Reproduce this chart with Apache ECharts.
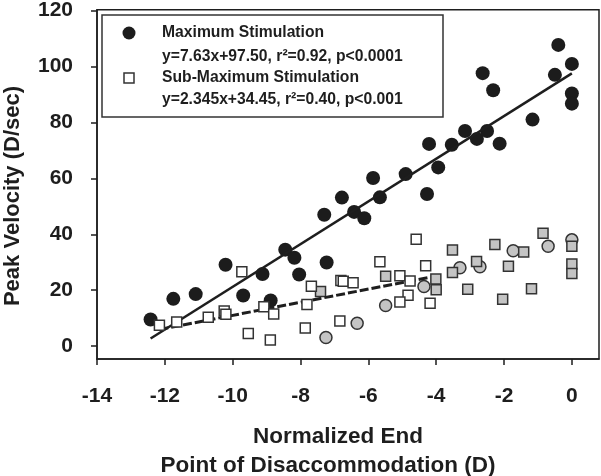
<!DOCTYPE html>
<html>
<head>
<meta charset="utf-8">
<script src="https://cdn.jsdelivr.net/npm/echarts@6/dist/echarts.min.js"></script>
<style>
html,body{margin:0;padding:0;background:#fff;}
#chart{width:601px;height:476px;}
</style>
</head>
<body>
<div id="chart"></div>
<script>
// ---- data ----
var maxX = [-12.42,-11.75,-11.09,-10.21,-9.69,-9.12,-8.88,-8.45,-8.18,-8.04,-7.30,-7.23,-6.78,-6.42,-6.12,-5.86,-5.66,-4.90,-4.27,-4.21,-3.94,-3.54,-3.15,-2.80,-2.63,-2.50,-2.32,-2.13,-1.16,-0.50,-0.40,0,0,0];
var maxY = [9.5,16.9,18.6,29.1,18.1,25.8,16.3,34.5,31.6,25.6,47.0,29.9,53.1,48.0,45.7,60.1,53.2,61.5,54.4,72.3,63.9,72.0,76.9,74.1,97.6,76.9,91.5,72.4,81.0,97.0,107.7,100.9,90.3,86.7];

var subX = [-12.16,-11.65,-10.72,-10.25,-10.20,-9.73,-9.54,-9.08,-8.79,-8.89,-7.86,-7.81,-7.68,-6.84,-6.81,-6.74,-6.45,-5.66,-5.07,-4.77,-4.83,-5.07,-4.59,-4.31,-4.18];
var subY = [7.5,8.6,10.3,12.6,11.4,26.6,4.5,14.1,11.5,2.2,6.5,14.9,21.4,9.0,23.5,23.2,22.7,30.2,25.2,23.3,18.2,15.8,38.2,28.7,15.3];

var graySqX = [-7.41,-5.49,-4.01,-4.00,-3.52,-3.52,-3.07,-2.81,-2.27,-1.87,-2.04,-1.42,-1.19,-0.85,0,0,0];
var graySqY = [19.5,25.0,24.0,20.2,34.4,26.3,20.3,30.3,36.3,28.6,16.8,33.7,20.5,40.4,35.7,29.4,26.0];

var grayCircX = [-7.25,-6.33,-5.49,-4.36,-3.30,-2.71,-1.73,-0.70,0];
var grayCircY = [3.1,8.2,14.5,21.3,28.0,28.4,34.1,35.7,38.0];

var fitMax = [7.63, 97.50];   // slope, intercept
var fitSub = [2.345, 34.45];

var xTicks = [-14,-12,-10,-8,-6,-4,-2,0];
var yTicks = [0,20,40,60,80,100,120];

var legendLines = [
  'Maximum Stimulation',
  'y=7.63x+97.50, r\u00B2=0.92, p<0.0001',
  'Sub-Maximum Stimulation',
  'y=2.345x+34.45, r\u00B2=0.40, p<0.001'
];
var xTitle = ['Normalized End', 'Point of Disaccommodation (D)'];
var yTitle = 'Peak Velocity (D/sec)';

// ---- helpers ----
function pairs(xs, ys){ return xs.map(function(x,i){ return [x, ys[i]]; }); }
function fitLine(xs, f){
  var lo = Math.min.apply(null, xs), hi = Math.max.apply(null, xs);
  return [[lo, f[0]*lo + f[1]], [hi, f[0]*hi + f[1]]];
}

var FONT = '"Liberation Sans", Arial, Helvetica, sans-serif';
var INK = '#1e1e1e';

var chart = echarts.init(document.getElementById('chart'), null, {renderer:'canvas'});
chart.setOption({
  animation: false,
  backgroundColor: '#fff',
  grid: {left: 97, right: 2, top: 7, bottom: 117, show: true, borderColor: INK, borderWidth: 1.5, backgroundColor: 'transparent'},
  xAxis: {
    type: 'value', min: -14, max: 0.8, interval: 2,
    splitLine: {show: false},
    axisLine: {show: true, onZero: false, lineStyle: {color: INK, width: 1.5}},
    axisTick: {show: true, inside: false, length: 6, lineStyle: {color: INK, width: 1.5}, customValues: xTicks},
    axisLabel: {customValues: xTicks, margin: 27, color: INK, fontSize: 21, fontWeight: 'bold', fontFamily: FONT}
  },
  yAxis: {
    type: 'value', min: -4.6, max: 120.3,
    splitLine: {show: false},
    axisLine: {show: true, onZero: false, lineStyle: {color: INK, width: 1.5}},
    axisTick: {show: true, inside: false, length: 6, lineStyle: {color: INK, width: 1.5}, customValues: yTicks},
    axisLabel: {customValues: yTicks, margin: 24, color: INK, fontSize: 21, fontWeight: 'bold', fontFamily: FONT}
  },
  series: [
    {type: 'scatter', name: 'Maximum Stimulation', data: pairs(maxX, maxY), symbol: 'circle', symbolSize: 14,
     itemStyle: {color: '#1c1c1c', opacity: 1}, z: 2},
    {type: 'line', data: fitLine(maxX, fitMax), symbol: 'none', lineStyle: {color: INK, width: 2.5}, z: 3, silent: true},
    {type: 'scatter', data: pairs(grayCircX, grayCircY), symbol: 'circle', symbolSize: 12,
     itemStyle: {color: '#c4c4c4', borderColor: '#333', borderWidth: 1.5, opacity: 1}, z: 4},
    {type: 'scatter', data: pairs(graySqX, graySqY), symbol: 'rect', symbolSize: 10,
     itemStyle: {color: '#c4c4c4', borderColor: '#333', borderWidth: 1.5, opacity: 1}, z: 5},
    {type: 'line', data: fitLine(subX, fitSub), symbol: 'none', lineStyle: {color: INK, width: 3, type: [9, 3]}, z: 6, silent: true},
    {type: 'scatter', name: 'Sub-Maximum Stimulation', data: pairs(subX, subY), symbol: 'rect', symbolSize: 10,
     itemStyle: {color: '#fff', borderColor: '#333', borderWidth: 1.5, opacity: 1}, z: 7}
  ],
  graphic: [
    {type: 'rect', shape: {x: 102, y: 15, width: 341, height: 102}, style: {fill: '#fff', stroke: '#333', lineWidth: 1.5}, z: 100},
    {type: 'circle', shape: {cx: 129, cy: 33, r: 6.5}, style: {fill: '#1c1c1c'}, z: 101},
    {type: 'rect', shape: {x: 124, y: 73, width: 10, height: 10}, style: {fill: '#fff', stroke: '#333', lineWidth: 1.5}, z: 101},
    {type: 'text', x: 162, y: 33, style: {text: legendLines[0], font: 'bold 15.7px ' + FONT, fill: INK, verticalAlign: 'middle'}, z: 101},
    {type: 'text', x: 162, y: 57, style: {text: legendLines[1], font: 'bold 15.7px ' + FONT, fill: INK, verticalAlign: 'middle'}, z: 101},
    {type: 'text', x: 162, y: 78, style: {text: legendLines[2], font: 'bold 15.7px ' + FONT, fill: INK, verticalAlign: 'middle'}, z: 101},
    {type: 'text', x: 162, y: 100, style: {text: legendLines[3], font: 'bold 15.7px ' + FONT, fill: INK, verticalAlign: 'middle'}, z: 101},
    {type: 'text', x: 338, y: 437, style: {text: xTitle[0], font: 'bold 22.5px ' + FONT, fill: INK, align: 'center', verticalAlign: 'middle'}},
    {type: 'text', x: 328, y: 466, style: {text: xTitle[1], font: 'bold 22.5px ' + FONT, fill: INK, align: 'center', verticalAlign: 'middle'}},
    {type: 'text', x: 13, y: 196, rotation: Math.PI/2, style: {text: yTitle, font: 'bold 22px ' + FONT, fill: INK, align: 'center', verticalAlign: 'middle'}}
  ]
});
</script>
</body>
</html>
